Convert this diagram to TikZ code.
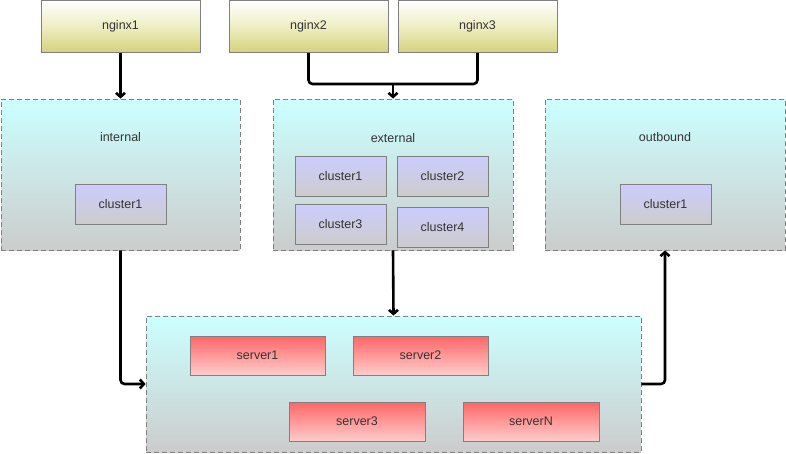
\documentclass[tikz,border=0pt]{standalone}
\usepackage{fontspec}
\setmainfont{Liberation Sans}
\usetikzlibrary{arrows.meta}
\definecolor{txt}{HTML}{333333}
\definecolor{bord}{HTML}{808080}
\tikzset{
  base/.style={draw=bord, line width=0.8pt, inner sep=0pt, text=txt, font=\fontsize{12.5}{14}\selectfont},
  nginxbox/.style={base, minimum width=159pt, minimum height=52pt, top color=white, bottom color={rgb,255:red,212;green,210;blue,122}, middle color={rgb,255:red,238;green,238;blue,196}},
  grp/.style={base, dashed, dash pattern=on 5pt off 3pt, top color={rgb,255:red,204;green,255;blue,255}, bottom color={rgb,255:red,204;green,204;blue,204}},
  clusterbox/.style={base, minimum width=91pt, minimum height=40pt, top color={rgb,255:red,204;green,204;blue,255}, bottom color={rgb,255:red,204;green,204;blue,204}},
  serverbox/.style={base, minimum width=135pt, minimum height=39pt, top color={rgb,255:red,255;green,102;blue,102}, bottom color={rgb,255:red,255;green,204;blue,204}},
  lbl/.style={text=txt, font=\fontsize{12.5}{14}\selectfont},
  arr/.style={line width=2.6pt, -{Straight Barb[length=4pt,width=9pt]}, rounded corners=4pt},
  conn/.style={line width=2.6pt, rounded corners=4pt}
}
\begin{document}
\begin{tikzpicture}[x=1pt,y=-1pt]
\useasboundingbox (0,0) rectangle (786,453);
% top nginx boxes
\node[nginxbox] (nginx1) at (120.5,26.5) {nginx1};
\node[nginxbox] (nginx2) at (308.5,26.5) {nginx2};
\node[nginxbox] (nginx3) at (477.5,26.5) {nginx3};
% groups
\node[grp, minimum width=239pt, minimum height=151pt] (internal) at (120.5,174.5) {};
\node[grp, minimum width=240pt, minimum height=151pt] (external) at (393,174.5) {};
\node[grp, minimum width=240pt, minimum height=151pt] (outbound) at (665,174.5) {};
\node[lbl] (linternal) at (120.5,137) {internal};
\node[lbl] (lexternal) at (393,138) {external};
\node[lbl] (loutbound) at (665,137) {outbound};
% clusters
\node[clusterbox] (ic1) at (120.5,204) {cluster1};
\node[clusterbox] (ec1) at (340.5,176) {cluster1};
\node[clusterbox] (ec2) at (442.5,176) {cluster2};
\node[clusterbox] (ec3) at (340.5,224) {cluster3};
\node[clusterbox] (ec4) at (442.5,227) {cluster4};
\node[clusterbox] (oc1) at (665.5,204) {cluster1};
% bottom group
\node[grp, minimum width=495pt, minimum height=136pt] (servers) at (393.5,384) {};
\node[serverbox] (s1) at (257.5,355.5) {server1};
\node[serverbox] (s2) at (420.5,355.5) {server2};
\node[serverbox, minimum width=136pt] (s3) at (357,421.5) {server3};
\node[serverbox, minimum width=136pt] (sN) at (531,421.5) {serverN};
% connectors
\draw[arr] (nginx1.south) -- (internal.north);
\coordinate (j) at (393,84);
\draw[conn] (nginx2.south) |- (j) -| (nginx3.south);
\draw[arr] (j) -- (external.north);
\draw[arr] (internal.south) |- (servers.west);
\draw[arr] (external.south) -- (servers.north);
\draw[arr] (servers.east) -| (outbound.south);
\end{tikzpicture}
\end{document}
